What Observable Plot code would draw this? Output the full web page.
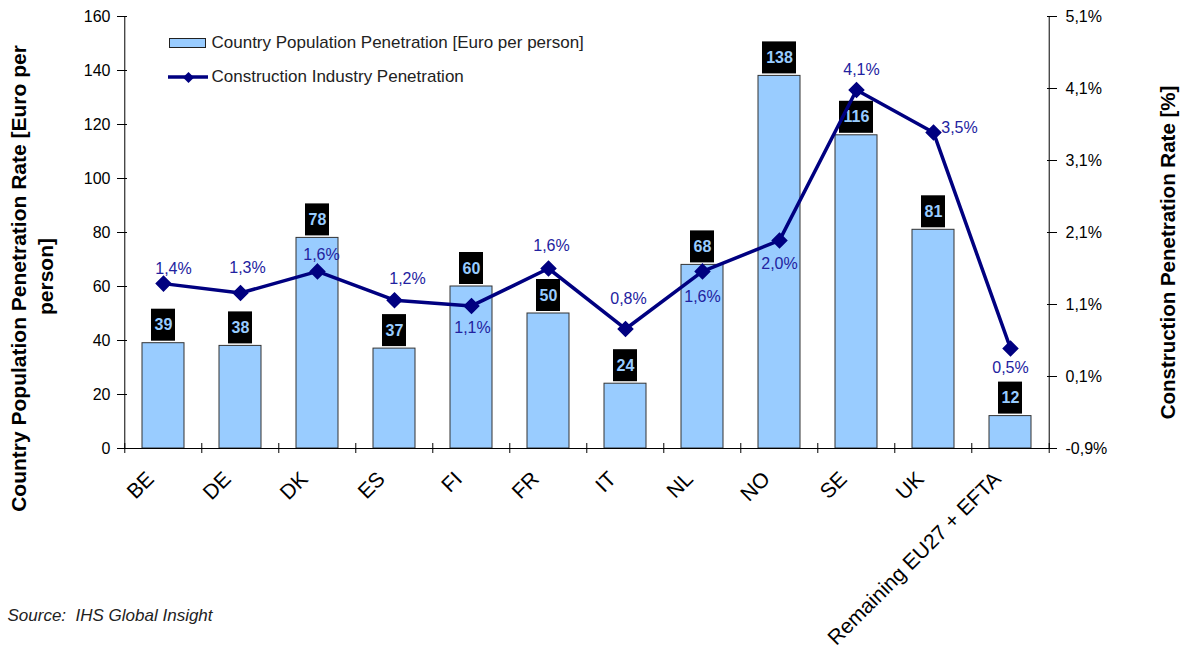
<!DOCTYPE html>
<html><head><meta charset="utf-8">
<script src="https://cdn.jsdelivr.net/npm/d3@7"></script>
<script src="https://cdn.jsdelivr.net/npm/@observablehq/plot@0.6"></script>
<style>
html,body{margin:0;padding:0;background:#fff;}
#chart svg{display:block;font-family:"Liberation Sans",Arial,sans-serif;}
</style></head><body><div id="chart"></div>
<script>
// ---- data ----
const countries = ["BE","DE","DK","ES","FI","FR","IT","NL","NO","SE","UK","Remaining EU27 + EFTA"];
const populationPenetration = [39,38,78,37,60,50,24,68,138,116,81,12];           // Euro per person
const constructionPenetration = [1.39,1.26,1.56,1.16,1.08,1.60,0.76,1.56,1.99,4.08,3.49,0.49]; // %
const leftTicks = [0,20,40,60,80,100,120,140,160];
const rightTicks = [-0.9,0.1,1.1,2.1,3.1,4.1,5.1];
const seriesNames = ["Country Population Penetration [Euro per person]","Construction Industry Penetration"];
const leftTitle = ["Country Population Penetration Rate [Euro per","person]"];
const rightTitle = "Construction Penetration Rate [%]";
const sourceText = "Source:\u00a0 IHS Global Insight";

// ---- style / layout ----
const W = 1187, H = 662;
const mL = 122, mR = 136, mT = 16, mB = 214;
const step = (W - mL - mR) / countries.length;
const barColor = "#99ccff", lineColor = "#000080", pctColor = "#2222a0";
// label offsets (dx, dy) for the percentage labels, per category
const pctOffsets = [[10,-15],[7,-25],[4,-17],[13,-21],[1,22],[3,-23],[3,-30],[0,25],[0,23],[5,-20],[26,-5],[0,19]];

const toLeft = d3.scaleLinear([-0.9, 5.1], [0, 160]);
const fmtPct = v => v.toFixed(1).replace(".", ",") + "%";

const rows = countries.map((c, i) => ({
  country: c, pop: populationPenetration[i], pct: constructionPenetration[i],
  odx: pctOffsets[i][0], ody: pctOffsets[i][1]
}));
const two = rows.filter(d => String(d.pop).length < 3);
const three = rows.filter(d => String(d.pop).length >= 3);

const font = "Liberation Sans, Arial, sans-serif";

const pctMarks = rows.map(d => Plot.text([d], {
  x: "country", y: r => toLeft(r.pct), text: r => fmtPct(r.pct),
  dx: d.odx, dy: d.ody, fill: pctColor, fontSize: 16, textAnchor: "middle", lineAnchor: "middle"
}));

const plot = Plot.plot({
  width: W, height: H,
  marginLeft: mL, marginRight: mR, marginTop: mT, marginBottom: mB,
  style: {fontFamily: font, background: "#fff", overflow: "visible"},
  x: {domain: countries, paddingInner: 0.457, paddingOuter: 0.2285, axis: null, label: null},
  y: {domain: [0, 160], axis: null, label: null},
  marks: [
    // bars
    Plot.barY(rows, {x: "country", y: "pop", fill: barColor, stroke: "#333", strokeWidth: 1}),
    // value label boxes
    Plot.barY(two, {x: "country", y1: "pop", y2: "pop", fill: "black", insetTop: -34, insetBottom: 2, insetLeft: 9, insetRight: 9}),
    Plot.barY(three, {x: "country", y1: "pop", y2: "pop", fill: "black", insetTop: -34, insetBottom: 2, insetLeft: 4, insetRight: 4}),
    Plot.text(rows, {x: "country", y: "pop", text: d => String(d.pop), dy: -18, fill: barColor, fontWeight: "bold", fontSize: 16, lineAnchor: "middle"}),
    // line series
    Plot.line(rows, {x: "country", y: d => toLeft(d.pct), stroke: lineColor, strokeWidth: 3.5}),
    Plot.dot(rows, {x: "country", y: d => toLeft(d.pct), symbol: "diamond2", r: 6.5, fill: lineColor, stroke: lineColor}),
    ...pctMarks,
    // axes lines
    Plot.ruleY([0], {stroke: "black", strokeWidth: 1}),
    Plot.ruleX([countries[0]], {dx: -step / 2, stroke: "black"}),
    Plot.ruleX([countries[countries.length - 1]], {dx: step / 2, stroke: "black"}),
    // x ticks at band boundaries
    Plot.axisX(countries, {anchor: "bottom", tickSize: 10, dy: -5, dx: -step / 2, tickFormat: () => "", label: null, stroke: "black"}),
    Plot.axisX([countries[countries.length - 1]], {anchor: "bottom", tickSize: 10, dy: -5, dx: step / 2, tickFormat: () => "", label: null, stroke: "black"}),
    // x labels
    Plot.text(countries, {x: d => d, frameAnchor: "bottom", dx: -13, dy: 27, rotate: -45, textAnchor: "end", lineAnchor: "middle", fontSize: 21, fill: "black"}),
    // left axis
    Plot.axisY(leftTicks, {anchor: "left", tickSize: 10, dx: 5, tickPadding: 7, fontSize: 16, label: null, stroke: "black", fill: "black"}),
    // right axis
    Plot.axisY(rightTicks.map(toLeft), {anchor: "right", tickSize: 10, dx: -5, tickPadding: 9, fontSize: 16, label: null,
      tickFormat: v => fmtPct(toLeft.invert(v)).replace("−", "-"), stroke: "black", fill: "black"}),
    // axis titles
    Plot.text([leftTitle[0]], {frameAnchor: "left", dx: -103, dy: 46, rotate: -90, textAnchor: "middle", lineAnchor: "middle", fontSize: 21, fontWeight: "bold", fill: "black"}),
    Plot.text([leftTitle[1]], {frameAnchor: "left", dx: -76, dy: 44, rotate: -90, textAnchor: "middle", lineAnchor: "middle", fontSize: 21, fontWeight: "bold", fill: "black"}),
    Plot.text([rightTitle], {frameAnchor: "right", dx: 117, dy: 20, rotate: -90, textAnchor: "middle", lineAnchor: "middle", fontSize: 20.5, fontWeight: "bold", fill: "black"}),
    // legend texts
    Plot.text([seriesNames[0]], {frameAnchor: "top-left", dx: 89, dy: 26, textAnchor: "start", lineAnchor: "middle", fontSize: 17, fill: "#222"}),
    Plot.text([seriesNames[1]], {frameAnchor: "top-left", dx: 89, dy: 60, textAnchor: "start", lineAnchor: "middle", fontSize: 17, fill: "#222"}),
    Plot.dot([0], {frameAnchor: "top-left", dx: 66, dy: 61, symbol: "diamond2", r: 5, fill: lineColor}),
    // source
    Plot.text([sourceText], {frameAnchor: "bottom-left", dx: -115, dy: 167, textAnchor: "start", lineAnchor: "middle", fontSize: 17, fontStyle: "italic", fill: "#222"})
  ]
});

// legend swatches (not data marks)
const svg = d3.select(plot);
const leg = svg.append("g");
leg.append("rect").attr("x", mL + 47.5).attr("y", mT + 22.5).attr("width", 36).attr("height", 9)
  .attr("fill", barColor).attr("stroke", "#222").attr("stroke-width", 1);
leg.append("line").attr("x1", mL + 46).attr("x2", mL + 86).attr("y1", mT + 61).attr("y2", mT + 61)
  .attr("stroke", lineColor).attr("stroke-width", 3.5);
// keep legend diamond on top
const dots = plot.querySelectorAll("g[aria-label='dot']");
if (dots.length) plot.appendChild(dots[dots.length - 1]);

document.getElementById("chart").appendChild(plot);
</script>
</body></html>
